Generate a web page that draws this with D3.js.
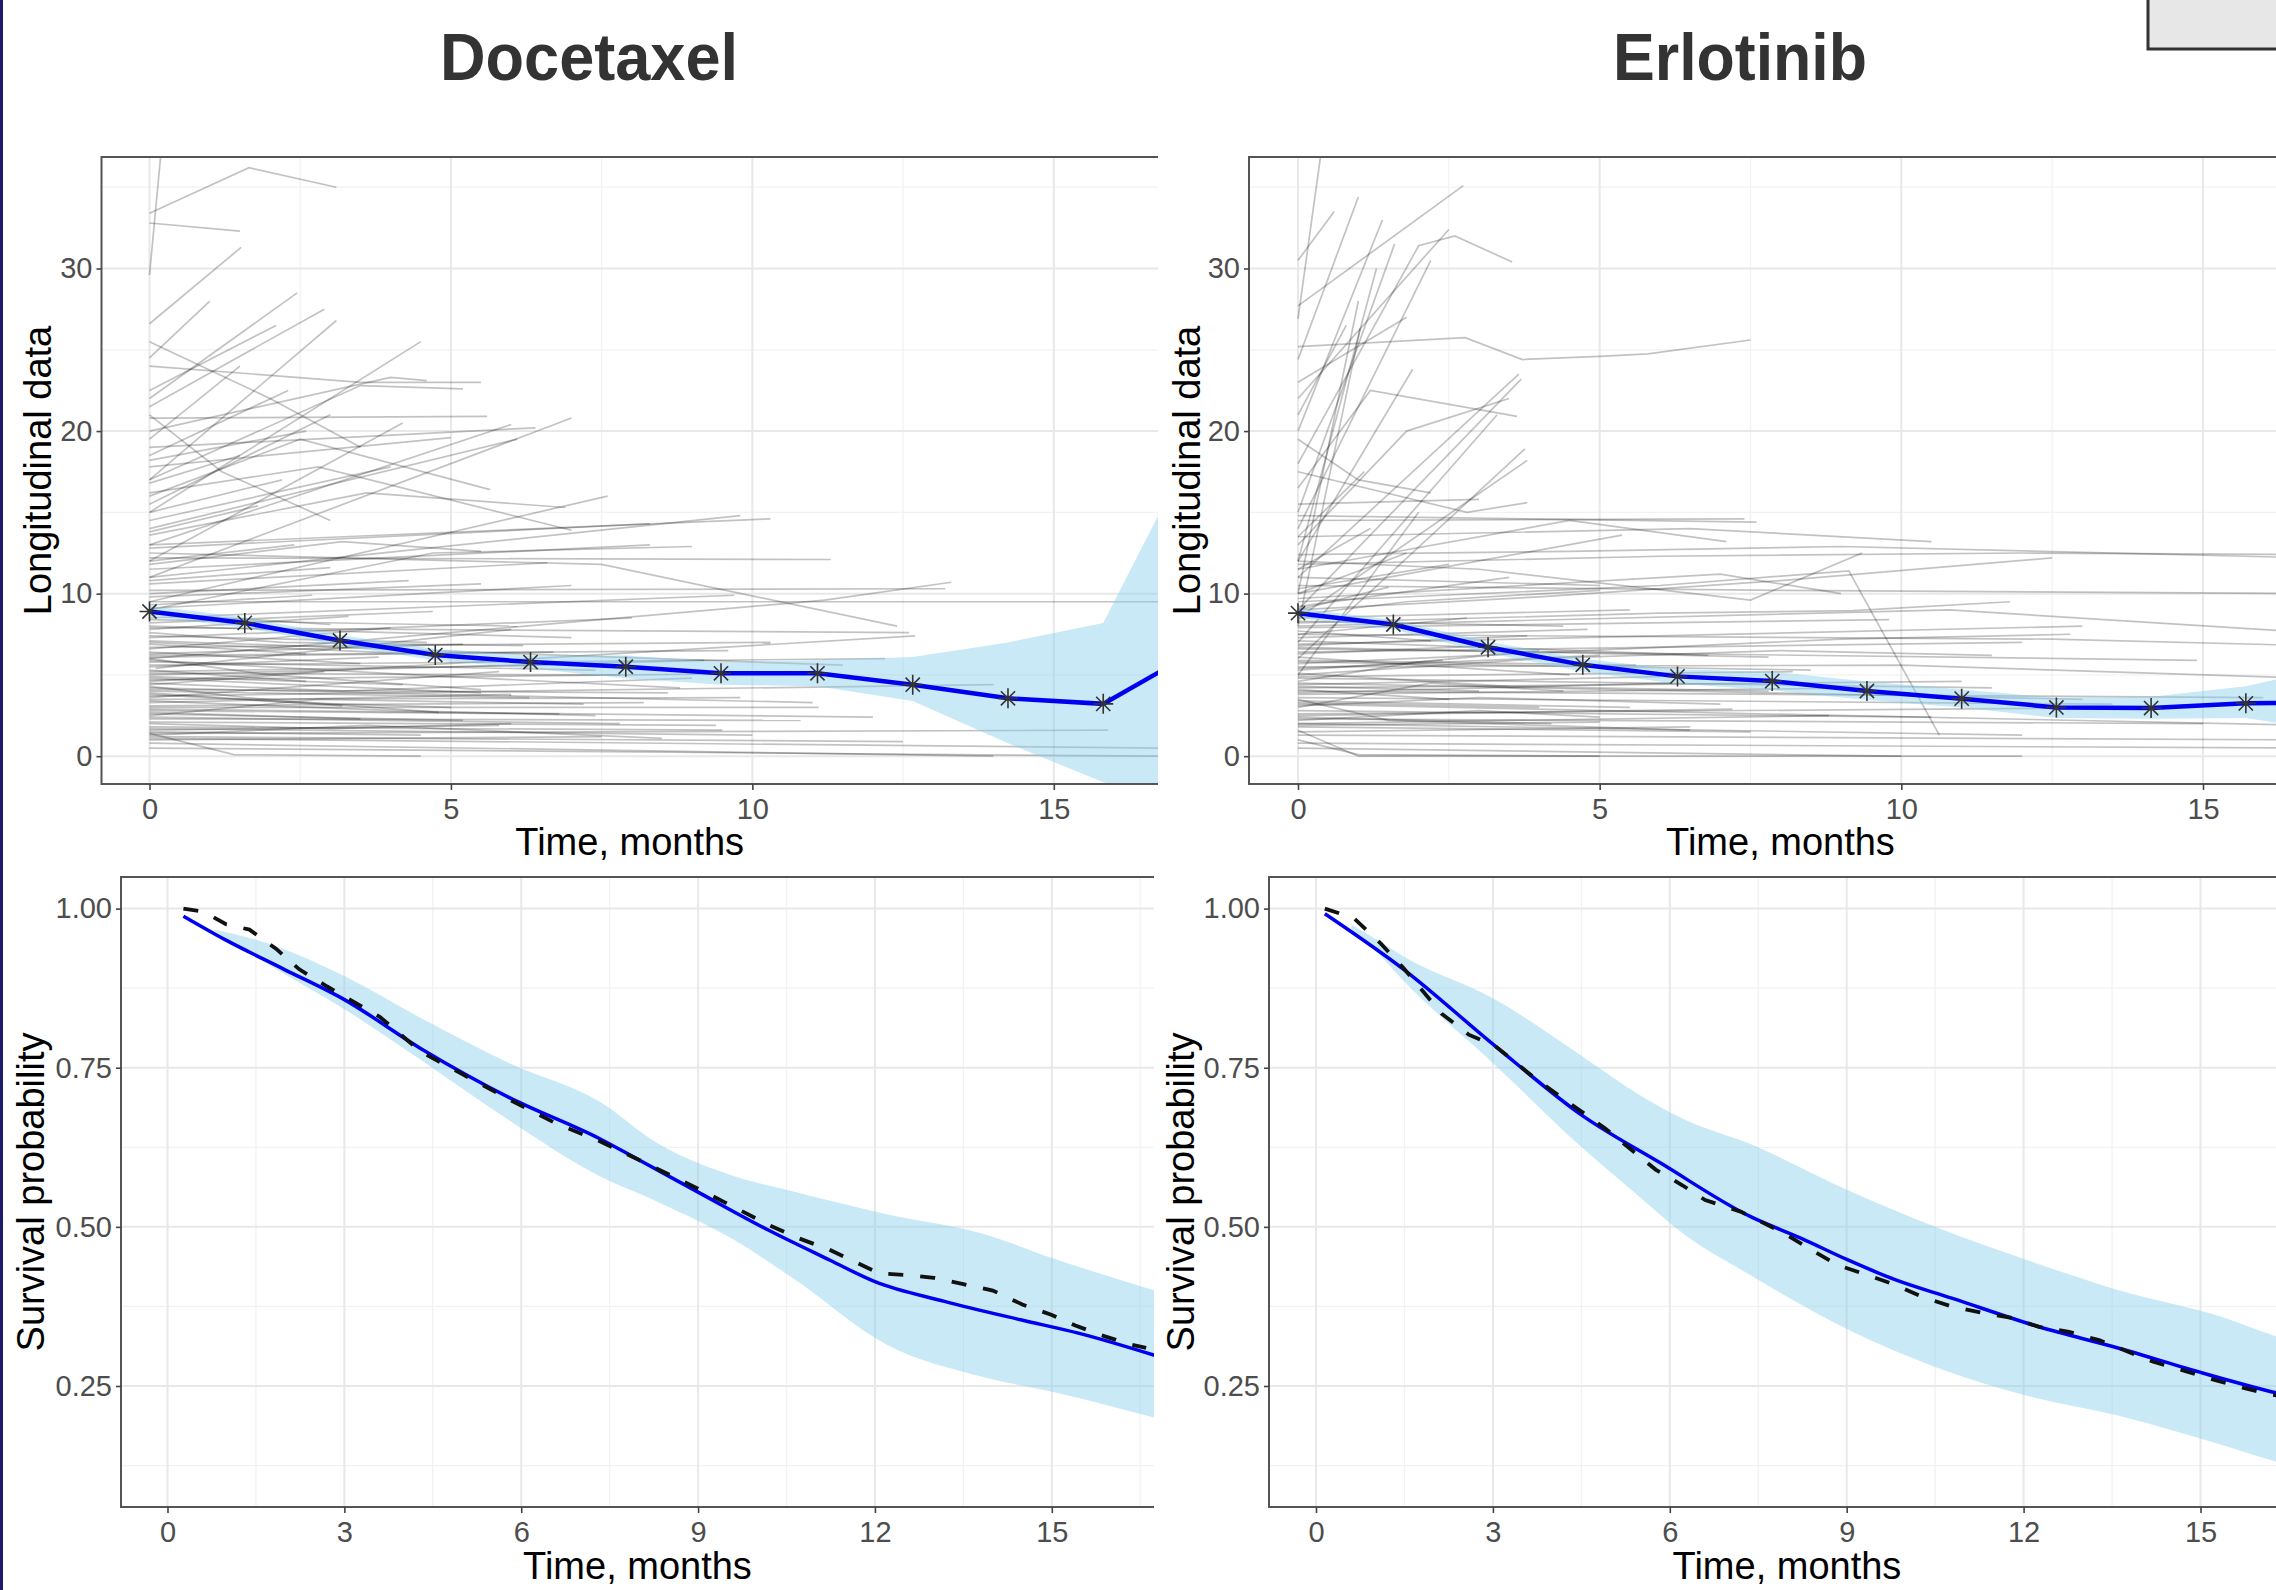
<!DOCTYPE html>
<html>
<head>
<meta charset="utf-8">
<script src="https://cdn.jsdelivr.net/npm/d3@7"></script>
<style>
body { margin: 0; background: #fff; }
svg { display: block; }
</style>
</head>
<body>
<div id="app"></div>
<script>
const width = 2276,
    height = 1590;

// ---- longitudinal data: individual trajectories as [t, v, t, v, ...] ----
const docLong = [
  [0,33.4, 1.65,36.2, 3.1,35.0], [0,29.6, 0.2,37.5], [0,32.8, 1.5,32.3], [0,26.6, 1.52,31.3],
  [0,22.0, 2.45,28.5], [0,24.5, 1.0,28.0], [0,21.5, 2.9,27.5], [0,17.0, 3.1,26.8],
  [0,15.0, 4.5,25.5], [0,20.0, 4.0,23.3, 4.6,23.1], [0,24.0, 3.5,23.0, 5.5,23.0], [0,17.0, 3.5,22.8, 5.2,22.6],
  [0,22.5, 2.1,26.5], [0,25.5, 2.0,22.0, 3.5,19.0], [0,19.5, 1.5,24.0], [0,18.5, 2.3,22.5],
  [0,13.0, 6.0,20.4], [0,12.0, 4.2,20.5], [0,11.0, 7.0,20.8], [0,20.8, 5.6,20.9],
  [0,19.0, 6.4,20.2], [0,16.0, 2.5,19.5, 5.65,16.4], [0,14.0, 6.1,19.5], [0,21.0, 1.2,17.5, 3.0,14.5],
  [0,17.8, 5.0,19.6], [0,15.5, 3.0,21.0], [0,14.5, 4.0,17.8], [0,13.6, 3.6,16.2, 6.9,15.3],
  [0,16.2, 2.8,17.8, 7.0,13.9], [0,9.5, 7.6,16.0], [0,12.8, 8.3,14.3], [0,13.0, 10.3,14.6],
  [0,11.0, 9.8,14.8], [0,11.8, 3.2,13.2, 5.5,12.6], [0,9.0, 4.7,12.5, 9.0,12.9], [0,11.5, 8.3,13.0],
  [0,12.2, 11.3,12.1], [0,10.6, 6.6,11.9], [0,9.8, 5.5,10.6], [0,10.2, 13.2,10.3],
  [0,12.5, 7.5,11.8, 12.4,8.0], [0,6.0, 11.2,9.6, 13.3,10.7], [0,9.5, 16.8,9.5], [0,9.1, 7.0,10.5],
  [0,8.8, 3.0,8.1], [0,8.5, 9.7,9.9], [0,8.2, 4.7,8.9], [0,8.0, 7.0,7.3],
  [0,7.9, 12.6,7.6], [0,7.6, 2.2,7.0, 6.2,6.8], [0,7.3, 8.0,8.5], [0,7.1, 11.5,5.6],
  [0,7.0, 5.0,6.2], [0,6.7, 10.3,7.0], [0,6.6, 4.0,7.9], [0,6.4, 3.5,5.7],
  [0,6.1, 6.7,6.4], [0,6.0, 2.0,5.0, 5.5,4.1], [0,5.9, 4.4,5.0, 8.8,4.2], [0,5.6, 12.2,6.0],
  [0.1,5.4, 6.0,7.8], [0,5.3, 2.6,4.6], [0,5.1, 7.8,5.0], [0,5.0, 9.2,5.9],
  [0,4.8, 5.5,3.9], [0,4.6, 12.7,7.4], [0,4.5, 3.2,4.0, 9.0,4.8], [0,4.3, 1.6,3.6, 4.8,2.7],
  [0,4.2, 11.0,3.3], [0,4.0, 6.3,3.6], [0,3.9, 3.2,3.1], [0,3.7, 14.0,4.4],
  [0,3.6, 5.8,5.2], [0,3.4, 4.1,2.8, 7.4,2.5], [0,3.1, 8.2,3.3], [0,3.0, 11.1,3.0],
  [0,2.8, 6.8,2.6], [0,2.6, 5.2,2.2], [0,2.5, 2.8,3.5, 7.2,3.2], [0,2.3, 10.8,2.2],
  [0,2.1, 9.4,1.9], [0,2.0, 3.0,1.7, 6.0,2.0], [0,1.8, 9.5,1.6], [0,1.7, 10.0,1.3],
  [0,1.5, 4.5,1.3], [0,1.4, 15.9,1.6], [0,1.3, 3.6,1.9, 8.5,1.1], [0,1.2, 12.5,0.9],
  [0,1.1, 16.8,0.5], [0,1.0, 7.5,1.2], [0,1.4, 1.4,0.1, 4.5,0.0], [0,0.8, 14.0,0.0],
  [0,0.5, 16.8,0.0],
  [0,1.6, 5.8,1.9], [0,2.4, 7.8,2.0], [0,2.7, 3.5,2.3], [0,3.3, 6.0,3.8],
  [0,3.8, 2.4,3.3, 5.0,3.0], [0,4.1, 8.6,3.9], [0,4.4, 2.9,5.2], [0,4.9, 4.2,4.4],
  [0,5.2, 6.6,5.6], [0,5.5, 3.8,6.1], [0,5.8, 7.4,5.3], [0,6.3, 5.2,6.9],
  [0,6.9, 2.6,6.3], [0,7.4, 4.6,7.0], [0,7.8, 3.3,8.6], [0,8.4, 6.1,8.0],
  [0,9.3, 2.7,9.9], [0,10.0, 4.3,10.8], [0,10.8, 3.0,11.6], [0,12.0, 2.4,13.0],
  [0,13.8, 1.8,15.4], [0,15.0, 2.2,17.0], [0,16.8, 1.5,18.5], [0,18.2, 2.6,20.0],
  [0,3.5, 9.8,3.6], [0,2.9, 12.0,2.4], [0,6.2, 9.6,6.5], [0,4.7, 10.5,5.1]
];

const erlLong = [
  [0,27.7, 2.74,35.1], [0,26.9, 0.37,36.8], [0,24.4, 1.0,34.4], [0,20.0, 1.4,33.0],
  [0,15.0, 1.6,31.5], [0,12.0, 1.3,30.0], [0,18.0, 2.0,31.4, 2.6,32.0, 3.55,30.4], [0,22.0, 2.5,32.4],
  [0,30.5, 0.6,33.5], [0,8.0, 1.03,26.3], [0,10.0, 1.0,28.0], [0,14.0, 2.2,30.5],
  [0,25.2, 2.77,25.75, 3.72,24.4, 5.0,24.6, 5.8,24.75, 7.5,25.6], [0,11.0, 3.66,23.5], [0,9.0, 3.7,23.2], [0,7.0, 3.3,21.0],
  [0,12.0, 1.9,23.8], [0,6.0, 3.76,18.9], [0,8.5, 3.8,18.2], [0,5.0, 2.0,15.0],
  [0,13.0, 1.8,20.0, 3.5,22.0], [0,16.5, 1.2,22.5, 3.63,20.9], [0,19.5, 1.0,17.0, 2.2,16.2], [0,17.5, 2.8,15.0, 3.8,15.6],
  [0,15.5, 3.0,15.8], [0,21.0, 0.8,26.5], [0,23.0, 1.8,27.0], [0,10.0, 5.37,13.6],
  [0,11.5, 4.5,14.5, 7.1,13.2], [0,14.8, 7.6,14.4], [0,14.5, 7.4,14.6], [0,13.5, 6.5,14.0, 10.5,13.2],
  [0,12.4, 4.5,12.6, 9.0,12.9, 16.8,12.2], [0,11.8, 6.0,12.3, 12.0,12.5, 16.8,12.4], [0,10.5, 8.0,10.2, 16.8,10.0], [0,12.0, 3.0,11.5, 7.5,9.6, 9.35,12.5],
  [0,9.5, 6.0,10.5, 9.13,11.4, 10.63,1.3], [0,8.2, 6.0,8.8, 9.2,8.95, 11.8,9.5], [0,9.0, 4.0,9.8, 8.0,10.8, 12.5,12.2], [0,7.5, 12.5,7.2, 16.8,6.8],
  [0,6.6, 14.9,5.9], [0,5.5, 10.0,5.6, 16.8,4.8], [0,4.5, 13.0,3.5], [0,3.2, 16.8,1.9],
  [0,2.0, 12.0,1.3], [0,1.3, 16.8,1.0], [0,0.8, 16.8,0.5], [0,1.6, 1.0,0.0, 12.0,0.0],
  [0,1.0, 1.0,0.1, 5.0,0.0], [0,0.5, 10.0,0.0], [0,1.5, 6.5,1.8], [0,2.0, 8.8,2.5],
  [0,2.4, 4.2,2.0], [0,2.8, 10.5,2.4], [0,3.1, 3.0,3.6, 7.0,3.2], [0,3.4, 5.5,3.0],
  [0,3.8, 9.5,4.2], [0,4.1, 2.5,3.5], [0,4.4, 6.0,4.9], [0,4.8, 11.5,4.2],
  [0,5.1, 3.5,4.3, 7.8,4.0], [0,5.4, 5.0,6.2], [0,5.8, 8.5,5.3], [0,6.1, 2.0,5.6, 4.5,5.0],
  [0,6.4, 12.0,7.0], [0,6.8, 3.8,7.4], [0,7.1, 6.8,6.2], [0,7.5, 2.8,8.5],
  [0,7.9, 9.8,8.4], [0,8.3, 4.4,8.0], [0,8.7, 1.8,9.5, 5.0,10.2], [0,9.2, 3.5,11.0],
  [0,9.7, 7.0,11.2, 9.0,10.0], [0,10.3, 2.5,11.8], [0,11.0, 5.0,10.5], [0,6.9, 13.0,8.0],
  [0,5.0, 4.0,6.0, 8.0,6.5, 11.5,6.2], [0,2.6, 14.2,3.0], [0,4.0, 16.0,3.6], [0,3.5, 1.5,2.2, 6.5,1.6],
  [0,5.7, 9.0,7.2, 12.8,7.5], [0,8.0, 10.8,9.0, 16.8,7.6], [0,2.2, 3.0,2.8, 5.0,2.4], [0,1.8, 7.5,1.5],
  [0,4.6, 2.0,5.8, 4.0,6.5], [0,3.0, 2.2,4.5, 4.4,4.0],
  [0,1.9, 5.0,2.1], [0,2.5, 7.2,2.9], [0,3.3, 4.0,3.0], [0,3.9, 6.2,4.5],
  [0,4.3, 3.0,4.0], [0,4.9, 8.2,5.2], [0,5.3, 2.4,5.9], [0,5.9, 5.6,5.6],
  [0,6.3, 3.2,6.8], [0,6.7, 7.8,6.1], [0,7.3, 4.8,7.8], [0,7.7, 2.2,7.1],
  [0,8.5, 5.5,9.0], [0,9.0, 1.5,10.4], [0,10.0, 1.8,12.5], [0,11.5, 1.2,14.0],
  [0,13.5, 1.1,17.5], [0,4.2, 11.0,4.6], [0,3.6, 13.5,3.2], [0,2.3, 15.0,2.0]
];

// ---- mean longitudinal profile with band ----
const docMeanT = [0, 1.58, 3.16, 4.74, 6.32, 7.9, 9.48, 11.08, 12.66, 14.24, 15.82, 16.76];
const docMeanV = [8.9, 8.2, 7.12, 6.22, 5.79, 5.5, 5.1, 5.1, 4.4, 3.56, 3.22, 5.2];
const docBandLo = [8.6, 7.9, 6.8, 5.9, 5.4, 4.8, 4.4, 4.3, 3.4, 0.8, -1.6, -2.5];
const docBandHi = [9.25, 8.55, 7.45, 6.6, 6.2, 6.2, 5.8, 5.9, 6.1, 7.0, 8.2, 15.0];

const erlMeanT = [0, 1.58, 3.15, 4.72, 6.29, 7.86, 9.43, 11.0, 12.57, 14.14, 15.71, 16.8];
const erlMeanV = [8.8, 8.1, 6.7, 5.62, 4.91, 4.62, 4.01, 3.54, 3.0, 2.96, 3.25, 3.3];
const erlBandLo = [8.5, 7.8, 6.35, 5.2, 4.45, 4.05, 3.45, 3.0, 2.35, 2.3, 2.35, 1.7];
const erlBandHi = [9.1, 8.4, 7.05, 6.0, 5.35, 5.2, 4.6, 4.1, 3.6, 3.65, 4.3, 5.2];

// ---- survival: predicted, observed (KM), band ----
const docPredT = [0.27, 0.96, 1.97, 3.0, 4.3, 5.8, 7.34, 8.0, 9.03, 10.19, 11.23, 12.0, 13.18, 14.47, 15.45, 16.75];
const docPredS = [0.988, 0.952, 0.905, 0.857, 0.78, 0.703, 0.638, 0.605, 0.553, 0.495, 0.448, 0.414, 0.383, 0.354, 0.333, 0.298];
const docObsT = [0.27, 0.62, 1.0, 1.39, 1.84, 2.23, 2.7, 3.0, 3.6, 4.3, 5.0, 5.8, 6.6, 7.3, 8.0, 9.0, 10.2, 10.71, 11.23, 12.07, 12.6, 13.0, 13.5, 14.0, 14.5, 14.99, 15.4, 15.9, 16.35, 16.6];
const docObsS = [1.0, 0.995, 0.975, 0.967, 0.937, 0.905, 0.878, 0.862, 0.83, 0.775, 0.74, 0.70, 0.662, 0.636, 0.605, 0.56, 0.503, 0.482, 0.464, 0.427, 0.424, 0.42, 0.41, 0.40, 0.378, 0.362, 0.345, 0.328, 0.315, 0.31];
const docBandT = [0.8, 1.84, 3.0, 4.3, 5.8, 7.34, 8.3, 9.6, 10.6, 12.2, 13.8, 15.1, 16.75];
const docSurvLo = [0.965, 0.905, 0.842, 0.762, 0.667, 0.579, 0.54, 0.48, 0.42, 0.315, 0.265, 0.239, 0.20];
const docSurvHi = [0.967, 0.941, 0.894, 0.828, 0.757, 0.696, 0.632, 0.58, 0.556, 0.52, 0.49, 0.448, 0.40];

const erlPredT = [0.15, 1.48, 3.04, 4.53, 5.83, 7.37, 8.23, 9.02, 9.82, 10.78, 12.26, 13.63, 15.05, 16.29, 16.8];
const erlPredS = [0.992, 0.905, 0.784, 0.674, 0.601, 0.516, 0.482, 0.448, 0.417, 0.388, 0.343, 0.309, 0.27, 0.239, 0.228];
const erlObsT = [0.15, 0.64, 1.1, 1.48, 2.13, 2.59, 3.04, 3.76, 4.9, 5.76, 6.22, 6.6, 7.2, 7.94, 8.4, 8.85, 9.36, 9.82, 10.28, 10.78, 11.29, 11.8, 12.26, 12.77, 13.28, 14.2, 14.76, 15.22, 15.73, 16.18, 16.8];
const erlObsS = [1.0, 0.985, 0.945, 0.907, 0.835, 0.802, 0.784, 0.73, 0.655, 0.59, 0.565, 0.542, 0.524, 0.49, 0.464, 0.44, 0.424, 0.409, 0.39, 0.375, 0.365, 0.357, 0.343, 0.335, 0.322, 0.288, 0.273, 0.26, 0.247, 0.237, 0.227];
const erlBandT = [0.6, 1.1, 1.48, 3.04, 4.53, 5.44, 6.22, 7.37, 9.08, 10.5, 12.21, 13.63, 15.34, 16.29, 16.8];
const erlSurvLo = [0.965, 0.925, 0.887, 0.754, 0.623, 0.551, 0.49, 0.424, 0.336, 0.28, 0.231, 0.203, 0.158, 0.131, 0.12];
const erlSurvHi = [0.975, 0.947, 0.925, 0.857, 0.767, 0.71, 0.67, 0.63, 0.555, 0.50, 0.443, 0.40, 0.359, 0.328, 0.315];

// ---- ticks ----
const longXTicks = [0, 5, 10, 15], longXMinor = [2.5, 7.5, 12.5];
const longYTicks = [0, 10, 20, 30], longYMinor = [5, 15, 25, 35];
const survXTicks = [0, 3, 6, 9, 12, 15], survXMinor = [1.5, 4.5, 7.5, 10.5, 13.5, 16.5];
const survYTicks = [0.25, 0.5, 0.75, 1.0], survYMinor = [0.125, 0.375, 0.625, 0.875];

const font = "'Liberation Sans', Arial, sans-serif";
const zip = (a, b) => a.map((d, i) => [d, b[i]]);
const pairs = a => d3.range(0, a.length, 2).map(i => [a[i], a[i + 1]]);

const svg = d3.select("#app")
    .append("svg")
    .attr("width", width)
    .attr("height", height)
    .style("font-family", font);

svg.append("rect").attr("width", width).attr("height", height).attr("fill", "#fff");

// slide frame bits
svg.append("rect").attr("x", 0).attr("y", 0).attr("width", 3).attr("height", height).attr("fill", "#1c1c6b");
svg.append("rect").attr("x", 2148).attr("y", -10).attr("width", 140).attr("height", 59)
    .attr("fill", "#e7e7e7").attr("stroke", "#333").attr("stroke-width", 3);

// titles
[["Docetaxel", 589, 298], ["Erlotinib", 1740, 254]].forEach(([t, cx, len]) => {
  svg.append("text")
      .attr("x", cx).attr("y", 80)
      .attr("text-anchor", "middle")
      .attr("font-size", 66).attr("font-weight", "bold").attr("fill", "#333")
      .attr("textLength", len).attr("lengthAdjust", "spacingAndGlyphs")
      .text(t);
});

function panel(p) {
  const x = d3.scaleLinear().domain([0, 15]).range(p.xr);
  const y = d3.scaleLinear().domain(p.yd).range(p.yr);
  const g = svg.append("g");

  svg.append("clipPath").attr("id", "clip-" + p.id)
    .append("rect").attr("x", p.x0).attr("y", p.y0)
    .attr("width", p.x1 - p.x0).attr("height", p.y1 - p.y0);

  const body = g.append("g").attr("clip-path", "url(#clip-" + p.id + ")");

  // grid
  body.selectAll("line.vmin").data(p.xMinor).join("line")
      .attr("x1", d => x(d)).attr("x2", d => x(d)).attr("y1", p.y0).attr("y2", p.y1)
      .attr("stroke", "#f2f2f2").attr("stroke-width", 1.3);
  body.selectAll("line.hmin").data(p.yMinor).join("line")
      .attr("y1", d => y(d)).attr("y2", d => y(d)).attr("x1", p.x0).attr("x2", p.x1)
      .attr("stroke", "#f2f2f2").attr("stroke-width", 1.3);
  body.selectAll("line.vmaj").data(p.xTicks).join("line")
      .attr("x1", d => x(d)).attr("x2", d => x(d)).attr("y1", p.y0).attr("y2", p.y1)
      .attr("stroke", "#e8e8e8").attr("stroke-width", 2);
  body.selectAll("line.hmaj").data(p.yTicks).join("line")
      .attr("y1", d => y(d)).attr("y2", d => y(d)).attr("x1", p.x0).attr("x2", p.x1)
      .attr("stroke", "#e8e8e8").attr("stroke-width", 2);

  p.draw(body, x, y);

  // border: top, left, bottom (right side cut off in the original)
  g.append("path")
      .attr("d", `M${p.x1},${p.y0}H${p.x0}V${p.y1}H${p.x1}`)
      .attr("fill", "none").attr("stroke", "#555").attr("stroke-width", 2);

  const style = a => {
    a.select(".domain").remove();
    a.attr("font-size", 29).attr("font-family", font);
    a.selectAll(".tick line").attr("stroke", "#444").attr("stroke-width", 1.6);
    a.selectAll(".tick text").attr("fill", "#4d4d4d");
  };
  g.append("g").attr("transform", `translate(0,${p.y1})`)
      .call(d3.axisBottom(x).tickValues(p.xTicks).tickSize(6).tickPadding(8).tickFormat(d3.format("d")))
      .call(style);
  g.append("g").attr("transform", `translate(${p.x0},0)`)
      .call(d3.axisLeft(y).tickValues(p.yTicks).tickSize(5).tickPadding(4).tickFormat(p.yFmt))
      .call(style);

  g.append("text")
      .attr("x", (p.x0 + p.x1) / 2).attr("y", p.xLabY)
      .attr("text-anchor", "middle").attr("font-size", 38).attr("fill", "#000")
      .text("Time, months");
  g.append("text")
      .attr("transform", `translate(${p.yLabX},${(p.y0 + p.y1) / 2}) rotate(-90)`)
      .attr("text-anchor", "middle").attr("font-size", 38).attr("fill", "#000")
      .text(p.yLab);
}

function star(x, y, r) {
  const k = r * 0.71;
  return `M${x - r},${y}H${x + r}M${x},${y - r}V${y + r}` +
      `M${x - k},${y - k}L${x + k},${y + k}M${x - k},${y + k}L${x + k},${y - k}`;
}

function drawLong(traj, mT, mV, lo, hi) {
  return (body, x, y) => {
    const line = d3.line().x(d => x(d[0])).y(d => y(d[1]));
    body.append("g").selectAll("path").data(traj.map(pairs)).join("path")
        .attr("d", line).attr("fill", "none")
        .attr("stroke", "#000").attr("stroke-opacity", 0.24).attr("stroke-width", 1.7);
    const area = d3.area().x(d => x(d[0])).y0(d => y(d[1])).y1(d => y(d[2]));
    body.append("path").datum(mT.map((t, i) => [t, lo[i], hi[i]]))
        .attr("d", area).attr("fill", "#87ceeb").attr("fill-opacity", 0.45);
    body.append("path").datum(zip(mT, mV))
        .attr("d", line).attr("fill", "none").attr("stroke", "#0000f0").attr("stroke-width", 4.5);
    body.append("g").selectAll("path").data(zip(mT, mV).slice(0, -1)).join("path")
        .attr("d", d => star(x(d[0]), y(d[1]), 10))
        .attr("fill", "none").attr("stroke", "#333").attr("stroke-width", 1.6);
  };
}

function drawSurv(pT, pS, oT, oS, bT, lo, hi) {
  return (body, x, y) => {
    const line = d3.line().x(d => x(d[0])).y(d => y(d[1]));
    const smooth = d3.line().curve(d3.curveMonotoneX).x(d => x(d[0])).y(d => y(d[1]));
    const area = d3.area().curve(d3.curveMonotoneX).x(d => x(d[0])).y0(d => y(d[1])).y1(d => y(d[2]));
    body.append("path").datum(bT.map((t, i) => [t, lo[i], hi[i]]))
        .attr("d", area).attr("fill", "#87ceeb").attr("fill-opacity", 0.45);
    body.append("path").datum(zip(pT, pS))
        .attr("d", smooth).attr("fill", "none").attr("stroke", "#0000f0").attr("stroke-width", 3.5);
    body.append("path").datum(zip(oT, oS))
        .attr("d", line).attr("fill", "none").attr("stroke", "#111").attr("stroke-width", 3.8)
        .attr("stroke-dasharray", "15,17");
  };
}

const longCommon = {yd: [0, 30], yr: [756.2, 268.5], y0: 157, y1: 784,
  xTicks: longXTicks, xMinor: longXMinor, yTicks: longYTicks, yMinor: longYMinor,
  yFmt: d3.format("d"), yLab: "Longitudinal data", xLabY: 855};
const survCommon = {yd: [0.25, 1], yr: [1386, 908.6], y0: 877, y1: 1507,
  xTicks: survXTicks, xMinor: survXMinor, yTicks: survYTicks, yMinor: survYMinor,
  yFmt: d3.format(".2f"), yLab: "Survival probability", xLabY: 1579};

panel({...longCommon, id: "tl", x0: 101.5, x1: 1158, xr: [149.5, 1053.8], yLabX: 51,
  draw: drawLong(docLong, docMeanT, docMeanV, docBandLo, docBandHi)});
panel({...longCommon, id: "tr", x0: 1249, x1: 2312, xr: [1298, 2203], yLabX: 1200,
  draw: drawLong(erlLong, erlMeanT, erlMeanV, erlBandLo, erlBandHi)});
panel({...survCommon, id: "bl", x0: 121, x1: 1154, xr: [167.5, 1051.8], yLabX: 44,
  draw: drawSurv(docPredT, docPredS, docObsT, docObsS, docBandT, docSurvLo, docSurvHi)});
panel({...survCommon, id: "br", x0: 1269, x1: 2305, xr: [1316, 2200.5], yLabX: 1194,
  draw: drawSurv(erlPredT, erlPredS, erlObsT, erlObsS, erlBandT, erlSurvLo, erlSurvHi)});
</script>
</body>
</html>
